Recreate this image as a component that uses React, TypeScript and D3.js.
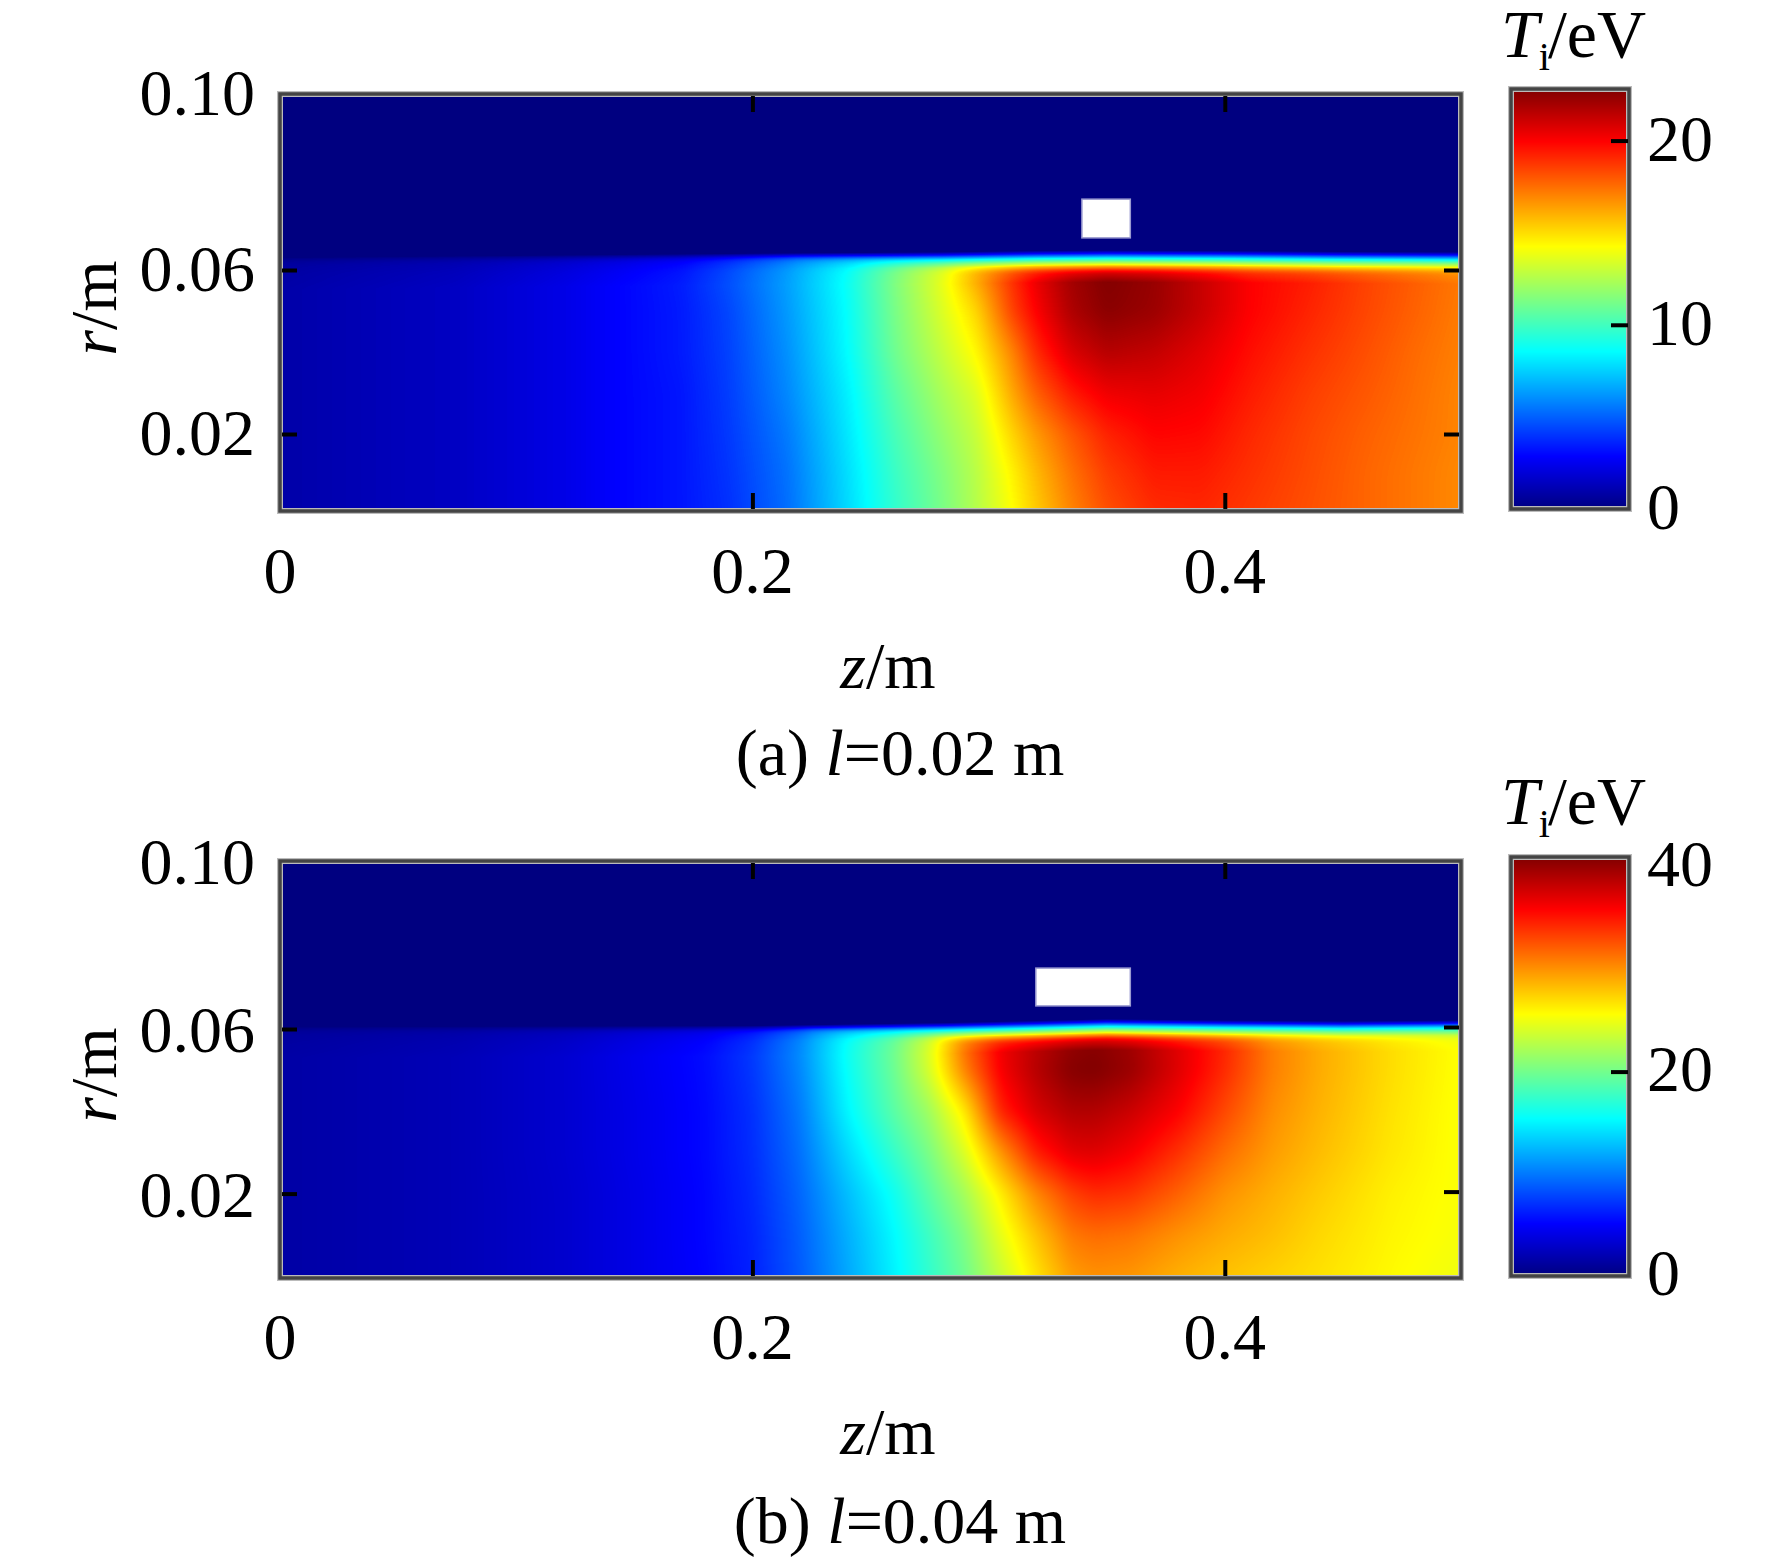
import React, { useEffect, useRef } from "react";
import * as d3 from "d3";

// r rows (top row first)
const rRows = [0.06, 0.05, 0.04, 0.03, 0.02, 0.01, 0];

const zColsA = [0, 0.025, 0.075, 0.12, 0.145, 0.17, 0.19, 0.215, 0.24, 0.26, 0.28, 0.295, 0.31, 0.32, 0.335, 0.35, 0.37, 0.39, 0.41, 0.435, 0.46, 0.48, 0.5];
const tempA = [
	[0.9, 1.1, 1.5, 2.3, 2.9, 3.5, 4.7, 6.5, 8.8, 11.4, 13.8, 16.5, 19, 20.5, 22.1, 22.8, 22.3, 21.2, 20, 19.4, 18.5, 17.9, 17.3],
	[0.9, 1.1, 1.5, 2.3, 2.9, 3.4, 4.4, 6.3, 8.6, 11.2, 13.4, 15.2, 18.5, 20, 21.8, 22.6, 22.2, 21.2, 20, 19.2, 18.4, 17.8, 17.2],
	[0.9, 1.1, 1.5, 2.3, 2.9, 3.4, 4.3, 6.1, 8.5, 11, 12.9, 14.4, 17, 19, 20.8, 21.6, 21.3, 20.6, 19.7, 18.9, 18.2, 17.6, 17.1],
	[0.9, 1.1, 1.5, 2.3, 2.9, 3.3, 4.2, 5.9, 8.2, 10.5, 12.3, 13.5, 16.2, 17.8, 19.4, 20.3, 20.5, 20.2, 19.4, 18.6, 18, 17.5, 17],
	[0.9, 1.1, 1.5, 2.3, 2.9, 3.3, 4.1, 5.6, 8, 10.1, 11.8, 13, 15.2, 16.5, 18, 19.2, 19.9, 19.8, 19.1, 18.4, 17.8, 17.4, 17],
	[0.9, 1.1, 1.5, 2.3, 2.9, 3.3, 4, 5.4, 7.8, 9.8, 11.4, 12.7, 14.5, 15.8, 17.4, 18.6, 19.4, 19.4, 18.9, 18.3, 17.7, 17.3, 16.9],
	[0.9, 1.1, 1.5, 2.3, 2.9, 3.3, 3.9, 5.3, 7.7, 9.6, 11.2, 12.6, 14.2, 15.4, 17, 18.2, 19, 19.1, 18.7, 18.2, 17.7, 17.3, 16.9],
];

const zColsB = [0, 0.025, 0.075, 0.12, 0.155, 0.18, 0.2, 0.22, 0.24, 0.26, 0.275, 0.29, 0.305, 0.32, 0.335, 0.345, 0.36, 0.38, 0.4, 0.42, 0.44, 0.47, 0.5];
const tempB = [
	[1.5, 1.7, 2.2, 3.2, 4.6, 5.6, 7.5, 10.9, 16, 20, 24.5, 32, 36.5, 38.3, 39.8, 40.4, 39.5, 37, 34.5, 30.8, 29, 27, 25.6],
	[1.5, 1.7, 2.2, 3.2, 4.5, 5.5, 7.3, 10.5, 15.6, 19.7, 24, 30.7, 36.2, 38.8, 40.8, 41, 40, 37.2, 34.2, 30.8, 29, 27, 25.5],
	[1.5, 1.7, 2.2, 3.2, 4.4, 5.4, 7, 10, 15, 19, 21.8, 26.5, 34.5, 37.5, 39, 39, 38, 36, 33, 30.2, 28.7, 26.8, 25.4],
	[1.5, 1.7, 2.2, 3.2, 4.4, 5.4, 6.9, 9.6, 13.8, 17.5, 20.3, 24.2, 29.8, 34.7, 37, 37.2, 36.2, 34, 31.5, 29.6, 28.3, 26.6, 25.4],
	[1.5, 1.7, 2.2, 3.1, 4.3, 5.3, 6.7, 9.2, 12.7, 15.9, 19, 22, 26.2, 30.4, 33.3, 34.2, 33.8, 32, 30, 28.8, 27.7, 26.2, 25.4],
	[1.5, 1.7, 2.2, 3.1, 4.3, 5.3, 6.5, 8.9, 12.1, 15.2, 17.8, 20.5, 24.6, 28, 31, 31.5, 31.2, 30, 29, 28.2, 27.2, 26, 25.3],
	[1.5, 1.7, 2.2, 3.1, 4.3, 5.2, 6.4, 8.7, 11.8, 14.9, 17.3, 19.8, 23.3, 26.6, 29.5, 30, 29.8, 28.8, 28, 27.4, 26.8, 25.8, 25],
];

// r where the thin edge layer starts to rise out of the cold region, against z
const edgeZ = [0, 0.2, 0.28, 0.32, 0.35, 0.4, 0.45, 0.5];
const edgeRA = [0.0628, 0.0638, 0.0641, 0.0644, 0.0645, 0.0644, 0.0642, 0.0641];
const edgeRB = [0.0605, 0.0608, 0.0615, 0.062, 0.0624, 0.0621, 0.0619, 0.0621];
// depth below that line and the level reached there, as a share of the colour range
const layerDepth = [0, 0.0007, 0.0018, 0.0025, 0.0032, 0.0036, 0.0041, 0.0045, 0.0055];
const layerLevel = [0, 0.125, 0.375, 0.5, 0.625, 0.75, 0.875, 1, 1.3];

const zTicks = [0, 0.2, 0.4];
const rTicks = [0.1, 0.06, 0.02];
const rDomain = [0, 0.02, 0.06, 0.1];

const jetStops = [0, 0.125, 0.375, 0.625, 0.875, 1];
const jetColors = ["#000080", "#0000ff", "#00ffff", "#ffff00", "#ff0000", "#800000"];

const FONT = "'Liberation Serif', 'Times New Roman', serif";

const jet = d3.scaleLinear<string>().domain(jetStops).range(jetColors).clamp(true);

const panels = [
	{
		zCols: zColsA, temp: tempA, edgeR: edgeRA, vmax: 22.8,
		yRange: [511, 434, 270, 94], cbY: [509, 89], cbLabels: [0, 10, 20], cbMarks: [10, 20], cbDy: 20,
		hole: [0.3395, 0.36, 0.0673, 0.0761], labelDy: 21, rightShift: 0,
		xLabelY: 593, xTitleY: 688, captionY: 775, caption: "(a) ", captionVal: "=0.02 m", rTitleY: 308, unitY: 57,
	},
	{
		zCols: zColsB, temp: tempB, edgeR: edgeRB, vmax: 41,
		yRange: [1278, 1193.6, 1029, 861], cbY: [1276, 857], cbLabels: [0, 20, 40], cbMarks: [20], cbDy: 19,
		hole: [0.32, 0.36, 0.0655, 0.0745], labelDy: 23, rightShift: -2,
		xLabelY: 1359, xTitleY: 1454, captionY: 1543, caption: "(b) ", captionVal: "=0.04 m", rTitleY: 1075, unitY: 824,
	},
];

// position of v inside a sorted list, as index + fraction
function locate(list: number[], v: number) {
	const i = Math.max(0, Math.min(list.length - 2, d3.bisectRight(list, v) - 1));
	const f = (v - list[i]) / (list[i + 1] - list[i]);
	return [i, Math.max(0, Math.min(1, f))];
}

function boxSmooth(src: Float32Array, w: number, h: number, rx: number, ry: number) {
	const a = new Float32Array(w * h);
	for (let y = 0; y < h; y++) {
		for (let x = 0; x < w; x++) {
			let s = 0;
			for (let k = -rx; k <= rx; k++) s += src[y * w + Math.max(0, Math.min(w - 1, x + k))];
			a[y * w + x] = s / (2 * rx + 1);
		}
	}
	const b = new Float32Array(w * h);
	for (let y = 0; y < h; y++) {
		for (let x = 0; x < w; x++) {
			let s = 0;
			for (let k = -ry; k <= ry; k++) s += a[Math.max(0, Math.min(h - 1, y + k)) * w + x];
			b[y * w + x] = s / (2 * ry + 1);
		}
	}
	return b;
}

function fieldImage(p: any, x: any, y: any, color: any) {
	const x0 = Math.round(x.range()[0]);
	const x1 = Math.round(x.range()[1]);
	const y0 = Math.round(p.yRange[3]);
	const y1 = Math.round(p.yRange[0]);
	const w = x1 - x0;
	const h = y1 - y0;
	const rowsAsc = [...rRows].reverse();

	const inner = new Float32Array(w * h);
	for (let j = 0; j < h; j++) {
		const r = Math.min(0.06, y.invert(y0 + j + 0.5));
		const [ri, rf] = locate(rowsAsc, r);
		const lo = p.temp[rRows.length - 1 - ri];
		const hi = p.temp[rRows.length - 2 - ri];
		for (let i = 0; i < w; i++) {
			const [zi, zf] = locate(p.zCols, x.invert(x0 + i + 0.5));
			const a = lo[zi] + (lo[zi + 1] - lo[zi]) * zf;
			const b = hi[zi] + (hi[zi + 1] - hi[zi]) * zf;
			inner[j * w + i] = a + (b - a) * rf;
		}
	}
	const smooth = boxSmooth(boxSmooth(inner, w, h, 7, 8), w, h, 5, 6);

	const canvas = document.createElement("canvas");
	canvas.width = w;
	canvas.height = h;
	const ctx = canvas.getContext("2d")!;
	const img = ctx.createImageData(w, h);
	const edge = d3.scaleLinear().domain(edgeZ).range(p.edgeR);
	const level = d3.scaleLinear().domain(layerDepth).range(layerLevel).clamp(true);
	const cache = new Map<number, d3.RGBColor>();
	for (let j = 0; j < h; j++) {
		const r = y.invert(y0 + j + 0.5);
		for (let i = 0; i < w; i++) {
			const z = x.invert(x0 + i + 0.5);
			const depth = edge(z) - r;
			const tint = smooth[j * w + i];
			let t = 0;
			if (depth > 0) {
				// soft minimum of the interior value and the layer rise, slower where the interior is cold
				const slow = 0.12 + 0.88 * Math.min(1, tint / (0.3 * p.vmax));
				const rise = Math.max(1e-3, level(depth) * p.vmax * slow);
				const n = Math.max(1, Math.min(4, 1 + tint / (p.vmax * 0.22)));
				t = tint * rise / Math.pow(Math.pow(tint, n) + Math.pow(rise, n), 1 / n);
				// hand over to the plain interior value further down
				const below = Math.min(1, Math.max(0, (depth - 0.0055) / 0.002));
				t = t + (tint - t) * below;
			}
			const key = Math.round(t * 20);
			let c = cache.get(key);
			if (!c) {
				c = d3.rgb(color(key / 20));
				cache.set(key, c);
			}
			const o = (j * w + i) * 4;
			img.data[o] = c.r;
			img.data[o + 1] = c.g;
			img.data[o + 2] = c.b;
			img.data[o + 3] = 255;
		}
	}
	ctx.putImageData(img, 0, 0);
	return { href: canvas.toDataURL(), x0, y0, w, h };
}

function frame(g: any, x: number, y: number, w: number, h: number) {
	g.append("rect").attr("x", x).attr("y", y).attr("width", w).attr("height", h)
		.attr("fill", "none").attr("stroke", "#bbbbbb").attr("stroke-width", 6);
	g.append("rect").attr("x", x).attr("y", y).attr("width", w).attr("height", h)
		.attr("fill", "none").attr("stroke", "#444444").attr("stroke-width", 3.5);
}

function drawPanel(svg: any, p: any) {
	const x = d3.scaleLinear().domain([0, 0.5]).range([280, 1461]);
	const y = d3.scaleLinear().domain(rDomain).range(p.yRange);
	const color = (t: number) => jet(t / p.vmax);
	const top = p.yRange[3];
	const bottom = p.yRange[0];

	const g = svg.append("g");
	const im = fieldImage(p, x, y, color);
	g.append("image").attr("href", im.href).attr("x", im.x0).attr("y", im.y0)
		.attr("width", im.w).attr("height", im.h).attr("preserveAspectRatio", "none");

	// the white block
	const [z0, z1, r0, r1] = p.hole;
	g.append("rect").attr("x", x(z0)).attr("y", y(r1)).attr("width", x(z1) - x(z0)).attr("height", y(r0) - y(r1))
		.attr("fill", "#ffffff").attr("stroke", "#9a9ad0").attr("stroke-width", 1.5);

	frame(g, 280, top, 1181, bottom - top);

	// ticks
	const tickStyle = (a: any) => {
		a.select(".domain").remove();
		a.selectAll("line").attr("stroke", "#000").attr("stroke-width", 4);
	};
	const xInner = zTicks.filter((d) => d > 0);
	g.append("g").attr("transform", `translate(0,${bottom - 2})`)
		.call(d3.axisBottom(x).tickValues(xInner).tickSize(-16).tickFormat(() => "")).call(tickStyle);
	g.append("g").attr("transform", `translate(0,${top + 2})`)
		.call(d3.axisTop(x).tickValues(xInner).tickSize(-16).tickFormat(() => "")).call(tickStyle);
	const rInner = rTicks.filter((d) => d < 0.1);
	g.append("g").attr("transform", "translate(282,0)")
		.call(d3.axisLeft(y).tickValues(rInner).tickSize(-15).tickFormat(() => "")).call(tickStyle);
	g.append("g").attr("transform", `translate(1459,${p.rightShift})`)
		.call(d3.axisRight(y).tickValues(rInner).tickSize(-15).tickFormat(() => "")).call(tickStyle);

	const label = (tx: number, ty: number, s: string, anchor = "middle") =>
		g.append("text").attr("x", tx).attr("y", ty).attr("text-anchor", anchor)
			.attr("font-family", FONT).attr("font-size", 66).attr("fill", "#000").text(s);

	zTicks.forEach((d) => label(x(d), p.xLabelY, d === 0 ? "0" : d.toFixed(1)));
	rTicks.forEach((d) => label(255, y(d) + p.labelDy, d.toFixed(2), "end"));

	// axis titles
	const xt = label(888, p.xTitleY, "");
	xt.append("tspan").attr("font-style", "italic").text("z");
	xt.append("tspan").text("/m");

	const yt = g.append("text").attr("transform", `translate(116,${p.rTitleY}) rotate(-90)`)
		.attr("text-anchor", "middle").attr("font-family", FONT).attr("font-size", 66).attr("fill", "#000");
	yt.append("tspan").attr("font-style", "italic").text("r");
	yt.append("tspan").text("/m");

	const cap = label(900, p.captionY, "");
	cap.append("tspan").text(p.caption);
	cap.append("tspan").attr("font-style", "italic").text("l");
	cap.append("tspan").text(p.captionVal);

	// colour bar
	const [cb0, cb1] = p.cbY;
	const cb = d3.scaleLinear().domain([0, p.vmax]).range([cb0, cb1]);
	const cbX = 1511;
	const cbW = 118;
	d3.range(cb1, cb0).forEach((py) => {
		g.append("rect").attr("x", cbX).attr("y", py).attr("width", cbW).attr("height", 1.4)
			.attr("fill", color(cb.invert(py + 0.5)));
	});
	frame(g, cbX, cb1, cbW, cb0 - cb1);
	g.append("g").attr("transform", `translate(${cbX + cbW - 1},0)`)
		.call(d3.axisRight(cb).tickValues(p.cbMarks).tickSize(-17).tickFormat(() => "")).call(tickStyle);
	p.cbLabels.forEach((d: number) => label(1647, cb(d) + p.cbDy, String(d), "start"));

	// T_i/eV heading
	const unit = label(1501, p.unitY, "", "start").attr("font-size", 68);
	unit.append("tspan").attr("font-style", "italic").text("T");
	unit.append("tspan").attr("font-size", 40).attr("dy", 13).text("i");
	unit.append("tspan").attr("dx", -2).attr("dy", -13).text("/eV");
}

export default function App() {
	const ref = useRef<SVGSVGElement>(null);

	useEffect(() => {
		const svg = d3.select(ref.current);
		svg.selectAll("*").remove();
		panels.forEach((p) => drawPanel(svg, p));
	}, []);

	return (
		<svg
			ref={ref}
			width={1772}
			height={1564}
			viewBox="0 0 1772 1564"
			style={{ position: "absolute", left: 0, top: 0, background: "#fff" }}
		/>
	);
}
